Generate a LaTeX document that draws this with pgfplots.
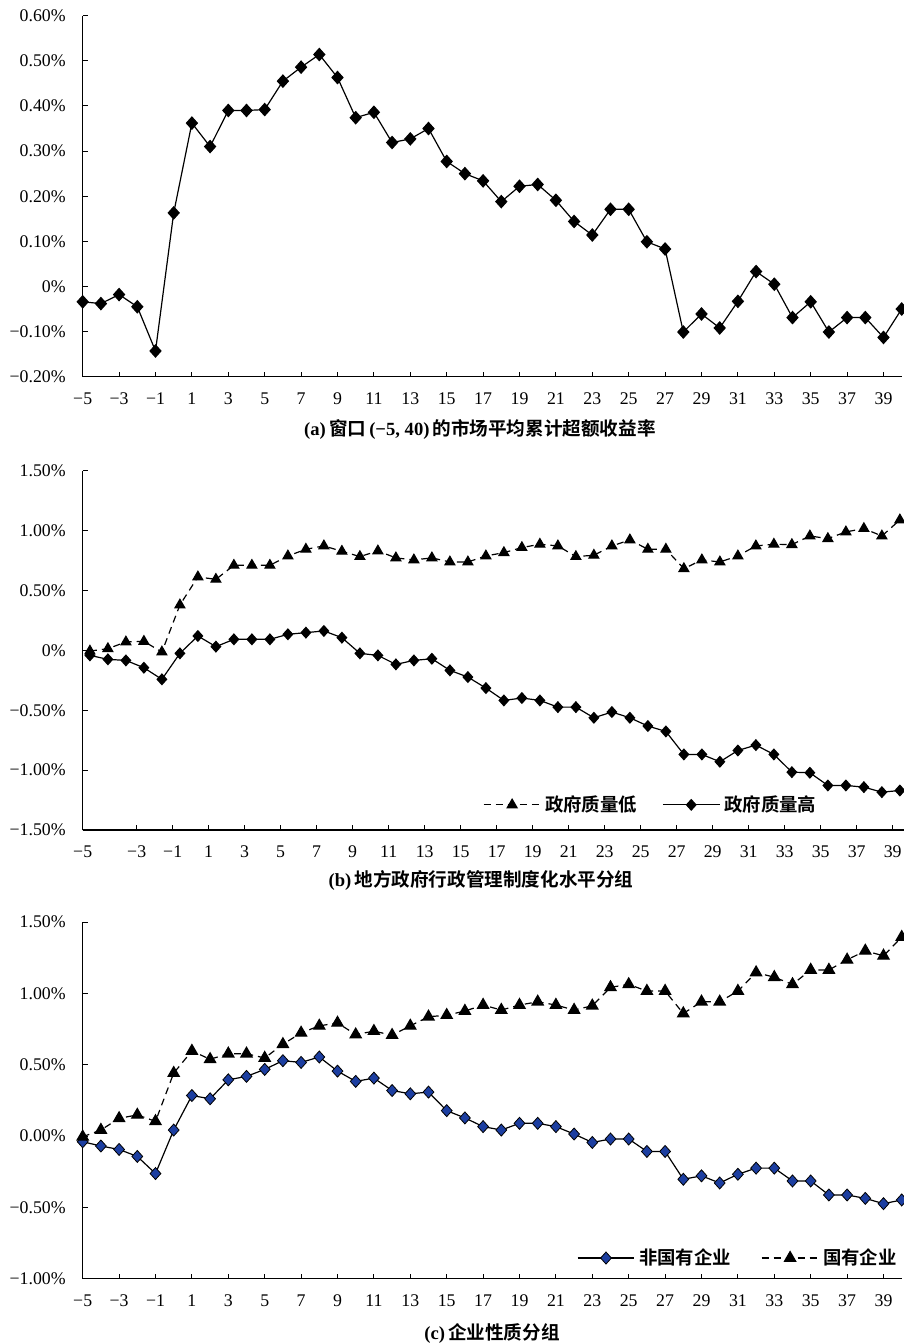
\documentclass[border=0pt]{standalone}
\usepackage{fontspec}
\setmainfont{Liberation Serif}
\newfontfamily\cjkb{Noto Sans CJK SC Bold}
\usepackage{pgfplots}
\usepackage{pgfplotstable}
\pgfplotsset{compat=1.18}
\definecolor{ncblue}{RGB}{28,62,160}

\pgfplotstableread{
t a blow bhigh cnon cstate
-5 -0.034 -0.006 -0.042 -0.040 -0.005
-4 -0.038 0.014 -0.075 -0.070 0.042
-3 -0.018 0.070 -0.084 -0.094 0.124
-2 -0.045 0.075 -0.145 -0.143 0.148
-1 -0.143 -0.014 -0.242 -0.263 0.103
0 0.163 0.379 -0.025 0.042 0.441
1 0.362 0.613 0.120 0.284 0.596
2 0.310 0.593 0.031 0.261 0.538
3 0.390 0.710 0.092 0.394 0.577
4 0.390 0.710 0.092 0.418 0.577
5 0.392 0.710 0.092 0.467 0.547
6 0.455 0.788 0.134 0.528 0.643
7 0.486 0.844 0.148 0.516 0.723
8 0.514 0.872 0.162 0.554 0.772
9 0.463 0.827 0.106 0.455 0.793
10 0.374 0.783 -0.025 0.383 0.711
11 0.386 0.830 -0.042 0.406 0.735
12 0.319 0.772 -0.117 0.319 0.707
13 0.327 0.755 -0.084 0.296 0.772
14 0.350 0.772 -0.070 0.308 0.836
15 0.277 0.738 -0.167 0.178 0.847
16 0.250 0.738 -0.223 0.127 0.876
17 0.234 0.788 -0.315 0.066 0.918
18 0.188 0.816 -0.418 0.042 0.883
19 0.222 0.858 -0.398 0.089 0.918
20 0.226 0.886 -0.418 0.089 0.941
21 0.191 0.872 -0.474 0.066 0.918
22 0.144 0.783 -0.474 0.014 0.883
23 0.114 0.794 -0.563 -0.045 0.913
24 0.171 0.872 -0.515 -0.021 1.042
25 0.171 0.922 -0.563 -0.021 1.063
26 0.099 0.844 -0.632 -0.108 1.016
27 0.083 0.844 -0.677 -0.108 1.016
28 -0.101 0.682 -0.869 -0.303 0.859
29 -0.061 0.755 -0.869 -0.279 0.941
30 -0.092 0.738 -0.930 -0.329 0.941
31 -0.033 0.788 -0.836 -0.268 1.016
32 0.033 0.872 -0.791 -0.225 1.146
33 0.005 0.886 -0.869 -0.225 1.113
34 -0.069 0.883 -1.017 -0.315 1.063
35 -0.034 0.955 -1.022 -0.315 1.164
36 -0.101 0.933 -1.128 -0.413 1.164
37 -0.069 0.989 -1.128 -0.413 1.235
38 -0.069 1.017 -1.142 -0.437 1.298
39 -0.113 0.955 -1.184 -0.474 1.263
40 -0.050 1.089 -1.170 -0.448 1.394
}\data

\pgfplotsset{
 myaxis/.style={
  scale only axis,
  axis x line*=bottom, axis y line*=left,
  tick align=inside,
  major tick length=2.5pt,
  every tick/.style={black, line width=0.5pt},
  axis line style={line width=0.6pt},
  enlargelimits=false,
  clip=false,
  tick label style={font=\fontsize{8.9}{10}\selectfont},
  yticklabel style={xshift=-5pt},
  xticklabel style={yshift=-4.5pt},
  legend cell align=left,
  legend style={draw=none, fill=none, font=\fontsize{9.2}{10}\selectfont\cjkb, inner sep=0pt},
  legend image code/.code={\draw[mark repeat=2,mark phase=2,##1] plot coordinates {(0cm,0cm) (0.5cm,0cm) (1cm,0cm)};},
 },
 xab/.style={
  xmin=-5, xmax=40,
  xtick={-5,-3,...,39},
  xticklabels={−5,−3,−1,1,3,5,7,9,11,13,15,17,19,21,23,25,27,29,31,33,35,37,39},
 },
 dia/.style={black, line width=0.6pt, mark=diamond*, mark size=3pt, mark options={solid, fill=black, xscale=1.2}},
 tri/.style={black, line width=0.6pt, dash pattern=on 3.5pt off 2.5pt, mark=triangle*, mark size=2.9pt, mark options={solid, fill=black}},
}

\begin{document}
\begin{tikzpicture}
\useasboundingbox (0,0) rectangle (452pt,-671.5pt);

% (a)
\begin{axis}[myaxis, xab,
  at={(41.35pt,-188.35pt)}, anchor=south west,
  width=409.5pt, height=180.5pt,
  ymin=-0.2, ymax=0.6,
  ytick={-0.2,-0.1,0,0.1,0.2,0.3,0.4,0.5,0.6},
  yticklabels={−0.20\%,−0.10\%,0\%,0.10\%,0.20\%,0.30\%,0.40\%,0.50\%,0.60\%},
]
\addplot[dia] table[x=t,y=a] {\data};
\end{axis}

% (b)
\begin{axis}[myaxis,
  at={(41.35pt,-415pt)}, anchor=south west,
  width=410.65pt, height=179.65pt,
  xmin=-5.4, xmax=40.23,
  xtick={-5.4,-2.4,-0.4,1.6,3.6,5.6,7.6,9.6,11.6,13.6,15.6,17.6,19.6,21.6,23.6,25.6,27.6,29.6,31.6,33.6,35.6,37.6,39.6},
  xticklabels={−5,−3,−1,1,3,5,7,9,11,13,15,17,19,21,23,25,27,29,31,33,35,37,39},
  ymin=-1.5, ymax=1.5,
  ytick={-1.5,-1,-0.5,0,0.5,1,1.5},
  yticklabels={−1.50\%,−1.00\%,−0.50\%,0\%,0.50\%,1.00\%,1.50\%},
  legend columns=2,
  legend style={at={(0.487,0.07)}, anchor=west, /tikz/every even column/.append style={column sep=10.5pt}},
]
\addplot[tri, mark size=2.8pt] table[x=t,y=blow] {\data};
\addlegendentry{政府质量低}
\addplot[dia, mark size=2.6pt] table[x=t,y=bhigh] {\data};
\addlegendentry{政府质量高}
\end{axis}

% (c)
\begin{axis}[myaxis, xab,
  at={(41.35pt,-639.35pt)}, anchor=south west,
  width=409.5pt, height=178.35pt,
  ymin=-1, ymax=1.5,
  ytick={-1,-0.5,0,0.5,1,1.5},
  yticklabels={−1.00\%,−0.50\%,0.00\%,0.50\%,1.00\%,1.50\%},
  legend columns=2,
  legend style={at={(0.603,0.058)}, anchor=west, /tikz/every even column/.append style={column sep=13pt}},
]
\addplot[dia, mark size=3pt, mark options={solid, fill=ncblue, draw=black, line width=0.4pt, xscale=1.2}] table[x=t,y=cnon] {\data};
\addlegendentry{非国有企业}
\addplot[tri, mark size=3.2pt] table[x=t,y=cstate] {\data};
\addlegendentry{国有企业}
\end{axis}

\node[font=\fontsize{9.3}{10}\selectfont] at (240pt,-214.5pt) {\textbf{(a)}\,{\cjkb 窗口}\,\textbf{(−5, 40)}\,{\cjkb 的市场平均累计超额收益率}};
\node[font=\fontsize{9.3}{10}\selectfont] at (240.5pt,-440pt) {\textbf{(b)}\,{\cjkb 地方政府行政管理制度化水平分组}};
\node[font=\fontsize{9.3}{10}\selectfont] at (246pt,-666.5pt) {\textbf{(c)}\,{\cjkb 企业性质分组}};
\end{tikzpicture}
\end{document}
